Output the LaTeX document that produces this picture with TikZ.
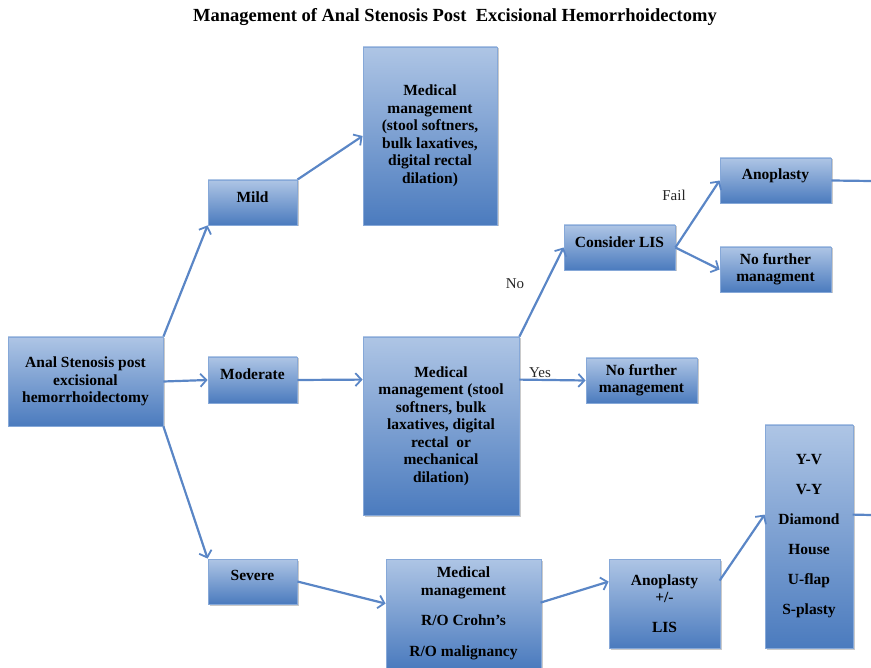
\documentclass[tikz,border=0pt]{standalone}
\usepackage{fontspec}
\setmainfont{Liberation Serif}
\usepackage{tikz}
\usetikzlibrary{arrows.meta,shadows,calc}

\definecolor{boxtop}{HTML}{AEC5E5}
\definecolor{boxbot}{HTML}{4B7BBE}
\definecolor{boxline}{HTML}{86A8D8}
\definecolor{arrowblue}{HTML}{5A86C6}

\begin{document}
\begin{tikzpicture}[x=1pt,y=-1pt,
  box_node/.style={rectangle,draw=boxline,line width=0.8pt,top color=boxtop,bottom color=boxbot,
    align=center,inner sep=0pt,font=\fontsize{15.5}{17.5}\selectfont\bfseries,text=black,
    drop shadow={shadow xshift=1.5pt,shadow yshift=-1.5pt,opacity=0.35,fill=black!60}},
  arrow_line/.style={draw=arrowblue,line width=2.2pt,-{Straight Barb[length=6pt,width=13pt,line width=1.8pt]}},
  plain_line/.style={draw=arrowblue,line width=2.2pt},
  tag_node/.style={font=\fontsize{15}{17}\selectfont,text=black!85}]
  \useasboundingbox (0,0) rectangle (871,668);
  \clip (0,0) rectangle (871,668);
	\node[font=\fontsize{18.5}{20}\selectfont\bfseries] (title) at (455,17) {Management of Anal Stenosis Post\ \ Excisional Hemorrhoidectomy};
	\node[box_node,minimum width=155,minimum height=89] (anal) at (85.5,381.5) {Anal Stenosis post\\excisional\\hemorrhoidectomy};
	\node[box_node,minimum width=89,minimum height=45] (mild) at (252.5,202.5) {Mild\\[-6pt]};
	\node[box_node,minimum width=89,minimum height=46] (moderate) at (252.5,380) {Moderate\\[-6pt]};
	\node[box_node,minimum width=89,minimum height=45] (severe) at (252.5,581.5) {Severe\\[-6pt]};
	\node[box_node,minimum width=134,minimum height=178] (med_a) at (430,136) {Medical\\management\\(stool softners,\\bulk laxatives,\\digital rectal\\dilation)};
	\node[box_node,minimum width=156,minimum height=178] (med_b) at (441,426) {Medical\\management (stool\\softners, bulk\\laxatives, digital\\rectal\ \ or\\mechanical\\dilation)};
	\node[box_node,minimum width=155,minimum height=109] (med_c) at (463.5,613.5) {Medical\\management\\[13pt]R/O Crohn’s\\[13pt]R/O malignancy};
	\node[box_node,minimum width=111,minimum height=45] (lis) at (619.5,247.5) {Consider LIS\\[-6pt]};
	\node[box_node,minimum width=111,minimum height=45] (none_a) at (641.5,380.5) {No further\\management};
	\node[box_node,minimum width=111,minimum height=45] (anop_a) at (775.5,180.5) {Anoplasty\\[-4pt]};
	\node[box_node,minimum width=111,minimum height=45] (none_b) at (775.5,269.5) {No further\\managment};
	\node[box_node,minimum width=111,minimum height=89] (anop_b) at (664.5,603.5) {Anoplasty\\+/-\\[12pt]LIS};
	\node[box_node,minimum width=88,minimum height=223] (flaps) at (809,536.5) {Y-V\\[12.5pt]V-Y\\[12.5pt]Diamond\\[12.5pt]House\\[12.5pt]U-flap\\[12.5pt]S-plasty};
	\node[tag_node] (no) at (515,284) {No};
	\node[tag_node] (yes) at (540,373) {Yes};
	\node[tag_node] (fail) at (674,195) {Fail};
	\coordinate (edge_a) at (871,181);
	\coordinate (edge_b) at (871,515);
    \draw[arrow_line] (anal.north east) -- (mild.south west);
    \draw[arrow_line] (anal.east) -- (moderate.west);
    \draw[arrow_line] (anal.south east) -- (severe.north west);
    \draw[arrow_line] (mild.north east) -- (med_a.west);
    \draw[arrow_line] (moderate.east) -- ($(med_b.north west)+(0,43)$);
    \draw[arrow_line] (med_b.north east) -- (lis.west);
    \draw[arrow_line] ($(med_b.north east)+(0,43)$) -- (none_a.west);
    \draw[arrow_line] (lis.east) -- (anop_a.west);
    \draw[arrow_line] (lis.east) -- (none_b.west);
    \draw[plain_line] (anop_a.east) -- (edge_a);
    \draw[arrow_line] (severe.east) -- ($(med_c.north west)+(0,45)$);
    \draw[arrow_line] ($(med_c.north west)+(155,44)$) -- ($(anop_b.north west)+(0,23)$);
    \draw[arrow_line] ($(anop_b.north west)+(111,22)$) -- ($(flaps.north west)+(0,90)$);
    \draw[plain_line] ($(flaps.north west)+(88,90)$) -- (edge_b);
\end{tikzpicture}
\end{document}
